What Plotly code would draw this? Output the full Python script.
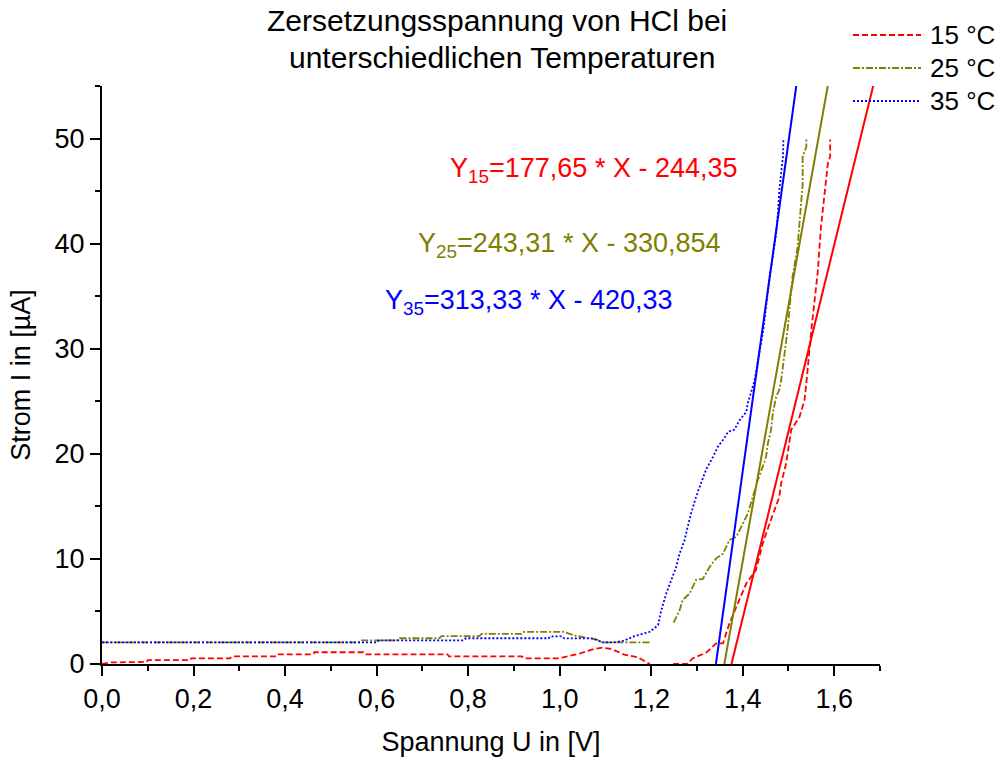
import plotly.graph_objects as go

# ---------------- data ----------------
labels = ["15 °C", "25 °C", "35 °C"]
colors = ["#FF0000", "#808000", "#0000FF"]
dashes = ["6px,3px", "7px,2px,2px,2px", "2px,2px"]

u15 = [0.0, 0.02, 0.098, 0.1, 0.192, 0.195, 0.28, 0.283, 0.381, 0.384, 0.461, 0.464, 0.571,
       0.574, 0.755, 0.758, 0.917, 0.922, 0.995, 1.005, 1.044, 1.073, 1.093, 1.112, 1.141, 1.17,
       1.197, None, 1.248, 1.278, 1.291, 1.32, 1.342, 1.357, 1.371, 1.393, 1.408, 1.429, 1.444,
       1.459, 1.48, 1.484, 1.495, 1.506, 1.524, 1.535, 1.539, 1.55, 1.564, 1.571, 1.579, 1.586,
       1.591, 1.591]
i15 = [0.0, 0.15, 0.2, 0.36, 0.36, 0.54, 0.54, 0.72, 0.72, 0.92, 0.92, 1.12, 1.12,
       0.92, 0.92, 0.72, 0.72, 0.54, 0.54, 0.6, 1.0, 1.4, 1.55, 1.45, 0.9, 0.65,
       0.0, None, 0.0, 0.0, 0.54, 1.08, 1.97, 1.97, 3.87, 6.1, 7.68, 8.94, 11.5,
       13.4, 15.9, 17.2, 19.1, 22.3, 23.5, 25.1, 26.7, 31.8, 37.3, 41.6, 45.0, 47.6,
       48.3, 49.9]

u25 = [0.0, 0.56, 0.565, 0.644, 0.65, 0.737, 0.742, 0.824, 0.83, 0.917, 0.922, 1.01, 1.034,
       1.083, 1.093, 1.2, None, 1.249, 1.262, 1.269, 1.284, 1.298, 1.313, 1.328, 1.342, 1.357,
       1.371, 1.386, 1.4, 1.411, 1.422, 1.433, 1.444, 1.451, 1.455, 1.462, 1.466, 1.473, 1.48,
       1.484, 1.498, 1.509, 1.52, 1.524, 1.528, 1.531, 1.531, 1.539, 1.539]
i25 = [2.05, 2.05, 2.25, 2.25, 2.45, 2.45, 2.65, 2.65, 2.87, 2.87, 3.05, 3.05, 2.7,
       2.3, 2.05, 2.05, None, 3.93, 5.1, 6.1, 6.7, 8.0, 8.1, 9.26, 10.05, 10.5,
       11.8, 12.1, 13.4, 14.3, 15.9, 17.5, 18.8, 19.7, 21.0, 22.3, 23.9, 25.4, 26.1,
       27.0, 31.8, 36.9, 39.7, 41.6, 43.8, 45.7, 48.3, 49.2, 50.0]

u35 = [0.0, 0.6, 0.605, 0.79, 0.795, 0.976, 0.98, 1.005, 1.01, 1.073, 1.093, 1.12, 1.141,
       1.16, 1.197, 1.215, 1.222, 1.233, 1.244, 1.255, 1.262, 1.273, 1.28, 1.287, 1.298, 1.306,
       1.32, 1.335, 1.346, 1.36, 1.368, 1.382, 1.393, 1.408, 1.411, 1.418, 1.422, 1.426, 1.445,
       1.459, 1.466, 1.473, 1.477, 1.48, 1.484, 1.488, 1.489]
i35 = [2.05, 2.05, 2.25, 2.25, 2.45, 2.45, 2.63, 2.63, 2.44, 2.44, 2.06, 2.06, 2.22,
       2.6, 3.07, 3.7, 5.1, 6.7, 8.0, 9.26, 10.5, 11.8, 13.1, 14.3, 15.9, 16.9,
       18.5, 19.7, 20.7, 21.5, 22.1, 22.3, 23.2, 24.0, 24.8, 25.8, 26.4, 27.0, 31.8,
       36.9, 38.8, 41.0, 42.9, 45.1, 46.7, 48.3, 50.0]

# linear fits  I = m*U + b
fit_m = [177.65, 243.31, 313.33]
fit_b = [-244.35, -330.854, -420.33]
fit_text = ["Y<sub>15</sub>=177,65 * X - 244,35",
            "Y<sub>25</sub>=243,31 * X - 330,854",
            "Y<sub>35</sub>=313,33 * X - 420,33"]

x_ticks = [0.0, 0.2, 0.4, 0.6, 0.8, 1.0, 1.2, 1.4, 1.6]
y_ticks = [0, 10, 20, 30, 40, 50]
x_range = [0, 1.7]
y_range = [0, 55]

# ---------------- figure ----------------
FONT = "Liberation Sans, Arial, sans-serif"
fig = go.Figure()

series = [(u15, i15), (u25, i25), (u35, i35)]
for (u, i), name, col, d in zip(series, labels, colors, dashes):
    fig.add_trace(go.Scatter(x=u, y=i, mode="lines", name=name, showlegend=False,
                             connectgaps=False,
                             line=dict(color=col, width=1.8, dash=d)))

for m, b, col in zip(fit_m, fit_b, colors):
    u0 = (y_range[0] - b) / m
    u1 = (y_range[1] - b) / m
    fig.add_trace(go.Scatter(x=[u0, u1], y=[y_range[0], y_range[1]], mode="lines",
                             showlegend=False, line=dict(color=col, width=2)))

# equations
eq_pos = [(0.755, 47.0), (0.687, 39.9), (0.615, 34.4)]
for (ex, ey), t, col in zip(eq_pos, fit_text, colors):
    fig.add_annotation(x=ex, y=ey, xref="x", yref="y", text=t, showarrow=False,
                       xanchor="left", yanchor="middle",
                       font=dict(family=FONT, size=27, color=col))

# manual legend (long line samples as in the reference)
L, T, W, H = 102, 86, 778, 578
def px(xp):
    return (xp - L) / W
def py(yp):
    return (T + H - yp) / H

leg_y = [35, 68, 101]
for yy, name, col, d in zip(leg_y, labels, colors, dashes):
    fig.add_shape(type="line", xref="paper", yref="paper",
                  x0=px(853), x1=px(921), y0=py(yy), y1=py(yy),
                  line=dict(color=col, width=1.8, dash=d))
    fig.add_annotation(xref="paper", yref="paper", x=px(928), y=py(yy), text=name,
                       showarrow=False, xanchor="left", yanchor="middle",
                       font=dict(family=FONT, size=26, color="black"))

# title (two lines)
fig.add_annotation(xref="paper", yref="paper", x=px(497), y=py(21),
                   text="Zersetzungsspannung von HCl bei", showarrow=False,
                   xanchor="center", yanchor="middle",
                   font=dict(family=FONT, size=30, color="black"))
fig.add_annotation(xref="paper", yref="paper", x=px(502), y=py(58),
                   text="unterschiedlichen Temperaturen", showarrow=False,
                   xanchor="center", yanchor="middle",
                   font=dict(family=FONT, size=30, color="black"))

axis_common = dict(showgrid=False, zeroline=False, showline=True, linecolor="black",
                   linewidth=2, ticks="outside", ticklen=10, tickwidth=2, automargin=False,
                   tickcolor="black", tickfont=dict(family=FONT, size=27, color="black"))

fig.update_xaxes(range=x_range, tickvals=x_ticks, tickformat=".1f",
                 minor=dict(dtick=0.1, tick0=0, ticks="outside", ticklen=5, tickwidth=2,
                            tickcolor="black"),
                 title=dict(text="Spannung U in [V]", standoff=20,
                            font=dict(family=FONT, size=27, color="black")),
                 **axis_common)
fig.update_yaxes(range=y_range, tickvals=y_ticks,
                 minor=dict(dtick=5, tick0=0, ticks="outside", ticklen=5, tickwidth=2,
                            tickcolor="black"),
                 title=dict(text="Strom I in [µA]", standoff=16,
                            font=dict(family=FONT, size=27, color="black")),
                 **axis_common)

fig.update_layout(width=1000, height=757, separators=",.",
                  margin=dict(l=L, r=1000 - L - W, t=T, b=757 - T - H),
                  plot_bgcolor="white", paper_bgcolor="white",
                  font=dict(family=FONT, color="black"), showlegend=False)

fig.write_html("out.html")
